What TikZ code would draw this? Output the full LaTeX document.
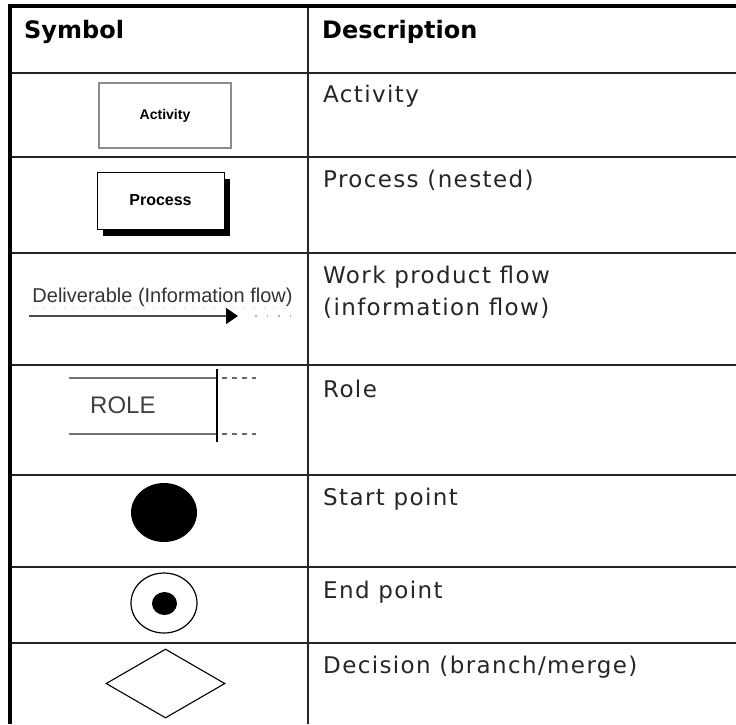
\documentclass[tikz,border=0pt]{standalone}
\usepackage{fontspec}
\setmainfont{DejaVu Sans}
\newfontfamily\descfont{DejaVu Sans}[LetterSpace=6]
\newfontfamily\symfont{Liberation Sans}
\usetikzlibrary{shapes.geometric,arrows.meta,shadows}

\begin{document}
\begin{tikzpicture}[x=1pt,y=-1pt,
  outerframe/.style={line width=4pt,black},
  gridrule/.style={line width=1.8pt,black!85},
  headtxt/.style={anchor=base west,inner sep=0pt,
    font=\fontsize{24}{28}\selectfont\bfseries},
  desctxt/.style={anchor=base west,inner sep=0pt,text=black!85,
    font=\descfont\fontsize{23}{32}\selectfont},
  actbox/.style={draw=black!45,line width=1.3pt,fill=white,inner sep=0pt,
    minimum width=132pt,minimum height=65pt,
    font=\symfont\fontsize{14}{16}\selectfont\bfseries},
  procbox/.style={draw=black,line width=1pt,fill=white,inner sep=0pt,
    minimum width=127pt,minimum height=57pt,
    font=\symfont\fontsize{16}{18}\selectfont\bfseries,
    drop shadow={shadow xshift=6pt,shadow yshift=-7pt,fill=black,opacity=1}},
  flowtxt/.style={inner sep=0pt,text=black!80,
    font=\symfont\fontsize{20}{24}\selectfont},
  flowline/.style={line width=1.6pt,black!70,
    -{Triangle[length=12pt,width=16pt,fill=black,color=black]}},
  trail/.style={line width=1.5pt,black!30,dash pattern=on 1.5pt off 10pt},
  laneline/.style={line width=2pt,black!55},
  lanetrail/.style={line width=1.5pt,black!60,dash pattern=on 5pt off 5pt},
  roletxt/.style={anchor=base west,inner sep=0pt,text=black!75,
    font=\symfont\fontsize{24}{28}\selectfont},
  dot/.style={ellipse,fill=black,inner sep=0pt},
  ring/.style={ellipse,draw=black,line width=1.2pt,inner sep=0pt},
  choice/.style={diamond,draw=black,line width=1.1pt,inner sep=0pt,
    minimum width=119pt,minimum height=69pt}
]
\useasboundingbox (0,0) rectangle (736,724);
\fill[white] (0,0) rectangle (736,724);

% table grid
\foreach \yy in {73,157,253,365,475,567,643}
  \draw[gridrule] (9.5,\yy) -- (736,\yy);
\draw[gridrule] (308,6) -- (308,724);
\draw[outerframe] (7.5,6) -- (736,6);
\draw[outerframe] (9.5,4) -- (9.5,724);

% header
\node[headtxt] (hsym) at (24,38) {Symbol};
\node[headtxt] (hdesc) at (322,38) {Description};

% activity
\node[actbox] (act) at (165,115.5) {Activity};
\node[desctxt] (dact) at (323,102) {Activity};

% nested process
\node[procbox] (proc) at (160.5,200.5) {Process};
\node[desctxt] (dproc) at (323,187) {Process (nested)};

% information flow
\node[flowtxt] (flowlbl) at (162.5,297) {Deliverable (Information flow)};
\draw[line width=1pt,black!25!green!40,dash pattern=on 1pt off 9pt]
  (flowlbl.south west) ++(2,2) -- ([xshift=-2pt,yshift=-2pt]flowlbl.south east);
\coordinate (fsrc) at (29,316);
\coordinate (ftip) at (238,316);
\coordinate (fend) at (292,316);
\draw[flowline] (fsrc) -- (ftip);
\draw[trail] ([xshift=17pt]ftip) -- (fend);
\node[desctxt] (dflow1) at (323,283) {Work product flow};
\node[desctxt] (dflow2) at (323,315) {(information flow)};

% role lane
\coordinate (lt0) at (69,378);
\coordinate (lt1) at (217,378);
\coordinate (lt2) at (256,378);
\coordinate (lb0) at (69,434);
\coordinate (lb1) at (217,434);
\coordinate (lb2) at (256,434);
\draw[laneline] (lt0) -- (lt1);
\draw[laneline] (lb0) -- (lb1);
\draw[lanetrail] ([xshift=5pt]lt1) -- (lt2);
\draw[lanetrail] ([xshift=5pt]lb1) -- (lb2);
\draw[line width=1.2pt,black] ([yshift=9pt]lt1) -- ([yshift=-8pt]lb1);
\node[roletxt] (role) at (90,413) {ROLE};
\node[desctxt] (drole) at (323,397) {Role};

% start point
\node[dot,minimum width=66pt,minimum height=59pt] (start) at (164,512.5) {};
\node[desctxt] (dstart) at (323,505) {Start point};

% end point
\node[ring,minimum width=66pt,minimum height=60pt] (endo) at (164,603) {};
\node[dot,minimum width=25pt,minimum height=23pt] (endi) at (164.5,603.5) {};
\node[desctxt] (dend) at (323,598) {End point};

% decision
\node[choice] (dec) at (165.5,683.5) {};
\node[desctxt] (ddec) at (323,673) {Decision (branch/merge)};
\end{tikzpicture}
\end{document}
